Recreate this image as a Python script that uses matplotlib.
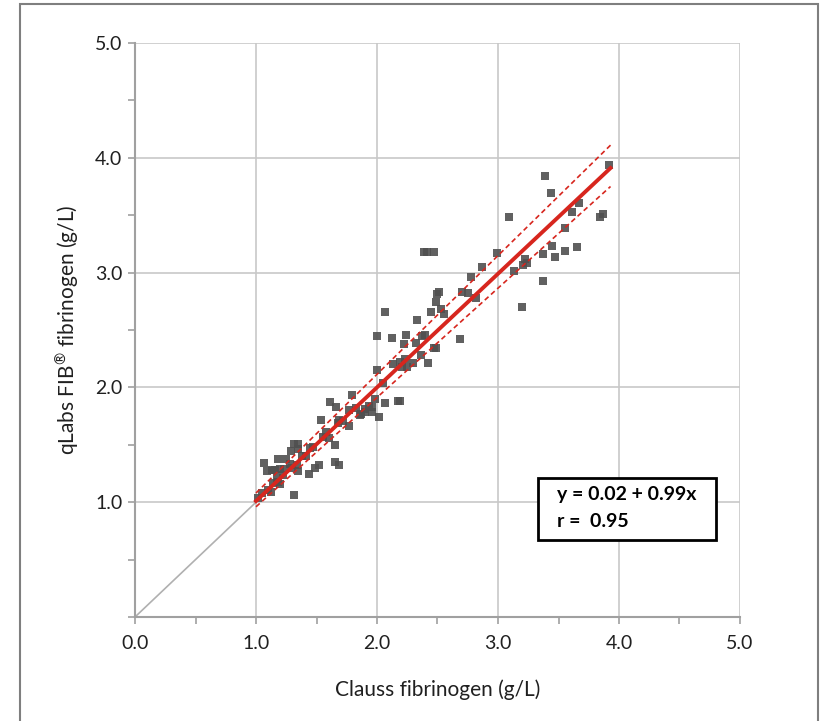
import matplotlib.pyplot as plt
from matplotlib.patches import Rectangle
from matplotlib.ticker import MultipleLocator

plt.rcParams['font.family'] = ['Lato', 'DejaVu Sans']

# Clauss (x) vs qLabs (y) fibrinogen, g/L
clauss = [1.02, 1.12, 1.10, 1.31, 1.18, 1.20, 1.07, 1.09, 1.13, 1.16,
          1.20, 1.23, 1.18, 1.25, 1.17, 1.30, 1.34, 1.35, 1.29, 1.31,
          1.35, 1.35, 1.41, 1.44, 1.49, 1.52, 1.47, 1.58, 1.60, 1.65,
          1.65, 1.69, 1.54, 1.68, 1.77, 1.87, 1.90, 1.96, 2.00, 2.12,
          2.24, 2.37, 2.40, 2.22, 2.32, 2.36, 2.30, 2.42, 2.13, 2.19,
          2.21, 2.25, 2.00, 2.05, 2.07, 2.17, 2.19, 1.98, 1.93, 1.96,
          1.90, 1.86, 2.02, 1.79, 1.61, 1.66, 1.77, 1.69, 2.07, 2.23,
          2.47, 2.49, 2.39, 2.41, 2.47, 2.99, 2.87, 2.78, 2.51, 2.50,
          2.49, 2.45, 2.53, 2.55, 2.70, 2.75, 2.82, 2.33, 2.69, 3.13,
          3.22, 3.24, 3.21, 3.37, 3.45, 3.47, 3.55, 3.65, 3.37, 3.20,
          3.92, 3.39, 3.44, 3.67, 3.61, 3.84, 3.87, 3.09, 3.55,
          1.05, 1.14, 1.22, 1.28, 1.38, 1.45, 1.55, 1.72, 1.83]
qlabs = [1.04, 1.09, 1.11, 1.06, 1.18, 1.16, 1.34, 1.27, 1.28, 1.28,
         1.29, 1.29, 1.38, 1.38, 1.21, 1.30, 1.32, 1.27, 1.45, 1.51,
         1.51, 1.46, 1.40, 1.25, 1.30, 1.32, 1.48, 1.61, 1.56, 1.50,
         1.35, 1.32, 1.72, 1.69, 1.66, 1.77, 1.79, 1.79, 2.45, 2.43,
         2.46, 2.45, 2.46, 2.38, 2.39, 2.28, 2.21, 2.21, 2.20, 2.22,
         2.18, 2.18, 2.15, 2.04, 1.86, 1.88, 1.88, 1.90, 1.84, 1.83,
         1.81, 1.76, 1.74, 1.93, 1.87, 1.83, 1.80, 1.72, 2.66, 2.25,
         2.34, 2.34, 3.18, 3.18, 3.18, 3.17, 3.05, 2.96, 2.83, 2.81,
         2.74, 2.66, 2.68, 2.64, 2.83, 2.82, 2.78, 2.59, 2.42, 3.01,
         3.12, 3.08, 3.07, 3.16, 3.23, 3.14, 3.19, 3.22, 2.93, 2.70,
         3.94, 3.84, 3.69, 3.61, 3.53, 3.48, 3.51, 3.48, 3.39,
         1.08, 1.17, 1.24, 1.33, 1.40, 1.47, 1.57, 1.71, 1.82]

intercept = 0.02
slope = 0.99
fit_x = [1.0, 3.93]
upper_y = [1.08, 4.11]
lower_y = [0.96, 3.75]

fig = plt.figure(figsize=(8.33, 7.21), dpi=100)
fig.patches.append(Rectangle((20 / 833, -0.01), 798 / 833, 1.01 - 4 / 721,
                             transform=fig.transFigure, fill=False,
                             edgecolor='#7f7f7f', linewidth=1.5))

ax = fig.add_axes([135 / 833, 104 / 721, 605 / 833, 574 / 721])
ax.set_xlim(0, 5)
ax.set_ylim(0, 5)

ax.plot([0, 1], [0, 1], color='#b0b0b0', linewidth=1.2, zorder=2)
ax.scatter(clauss, qlabs, marker='s', s=30, color='#505050', alpha=0.9,
           linewidths=0, zorder=3)
ax.plot(fit_x, [intercept + slope * v for v in fit_x], color='#d7261e',
        linewidth=2.8, zorder=4)
ax.plot(fit_x, upper_y, color='#d7261e', linewidth=1.2, linestyle=(0, (3, 2)), zorder=4)
ax.plot(fit_x, lower_y, color='#d7261e', linewidth=1.2, linestyle=(0, (3, 2)), zorder=4)

ax.xaxis.set_major_locator(MultipleLocator(1))
ax.yaxis.set_major_locator(MultipleLocator(1))
ax.xaxis.set_minor_locator(MultipleLocator(0.5))
ax.yaxis.set_minor_locator(MultipleLocator(0.5))
ax.set_xticks([0, 1, 2, 3, 4, 5])
ax.set_xticklabels(['0.0', '1.0', '2.0', '3.0', '4.0', '5.0'])
ax.set_yticks([1, 2, 3, 4, 5])
ax.set_yticklabels(['1.0', '2.0', '3.0', '4.0', '5.0'])
ax.grid(True, which='major', color='#c8c8c8', linewidth=1.2, zorder=0)
ax.set_axisbelow(True)
for side in ['top', 'right']:
    ax.spines[side].set_visible(False)
for side in ['left', 'bottom']:
    ax.spines[side].set_color('#a0a0a0')
    ax.spines[side].set_linewidth(1.5)
ax.tick_params(which='both', direction='out', length=5, width=1.2,
               color='#a0a0a0', labelsize=14, labelcolor='#202020')
ax.tick_params(axis='x', which='major', pad=8)
ax.tick_params(axis='y', which='major', pad=4)

ax.set_xlabel('Clauss fibrinogen (g/L)', fontsize=15, labelpad=20, color='#202020')
ax.set_ylabel('qLabs FIB$^{\\mathregular{\u00ae}}$ fibrinogen (g/L)', fontsize=15,
              labelpad=10, color='#202020')

ax.add_patch(Rectangle((3.33, 0.67), 1.47, 0.54, fill=True, facecolor='white',
                       edgecolor='black', linewidth=2, zorder=5))
ax.text(3.49, 1.07, 'y = 0.02 + 0.99x', fontsize=14, fontweight='bold',
        va='center', zorder=6)
ax.text(3.49, 0.83, 'r =  0.95', fontsize=14, fontweight='bold',
        va='center', zorder=6)

fig.savefig('out.png', dpi=100)
